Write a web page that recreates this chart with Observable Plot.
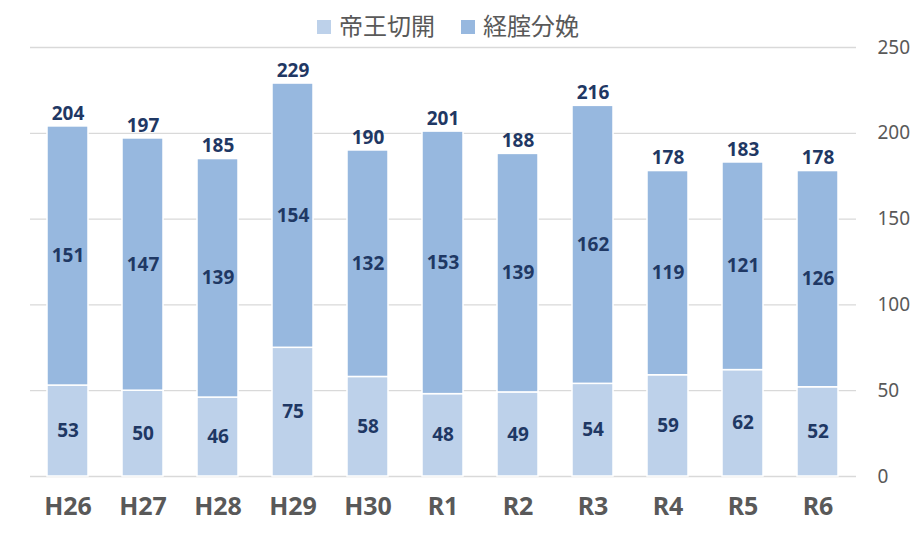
<!DOCTYPE html>
<html><head><meta charset="utf-8">
<script src="https://cdn.jsdelivr.net/npm/d3@7"></script>
<script src="https://cdn.jsdelivr.net/npm/@observablehq/plot@0.6"></script>
<style>
body{margin:0;background:#fff;width:922px;height:534px;overflow:hidden;font-family:"Noto Sans","Noto Sans CJK JP",sans-serif;}
#wrap{position:relative;width:922px;height:534px;}
#legend{position:absolute;left:0;top:8px;width:922px;height:32px;display:flex;justify-content:center;align-items:center;gap:26px;font-family:"Noto Sans CJK JP",sans-serif;font-size:24px;color:#595959;padding-right:26px;box-sizing:border-box;}
#legend span.sw{display:inline-block;width:14px;height:14px;margin-right:8px;vertical-align:middle;position:relative;top:-1px;}
</style></head>
<body>
<div id="wrap"><div id="chart"></div><div id="legend"></div></div>
<script>
const years = ["H26","H27","H28","H29","H30","R1","R2","R3","R4","R5","R6"];
const caesarean = [53,50,46,75,58,48,49,54,59,62,52];
const vaginal = [151,147,139,154,132,153,139,162,119,121,126];
const seriesNames = ["帝王切開","経腟分娩"];
const seriesColors = ["#bdd1ea","#97b8df"];
const yTicks = [0,50,100,150,200,250];

const leg = document.getElementById("legend");
seriesNames.forEach((n,i)=>{
  const d=document.createElement("div");
  d.innerHTML=`<span class="sw" style="background:${seriesColors[i]}"></span>${n}`;
  leg.appendChild(d);
});

const rows = [];
years.forEach((y,i)=>{
  rows.push({year:y, series:seriesNames[0], value:caesarean[i], order:0});
  rows.push({year:y, series:seriesNames[1], value:vaginal[i], order:1});
});
const totals = years.map((y,i)=>({year:y, total:caesarean[i]+vaginal[i]}));

const chart = Plot.plot({
  width:922, height:534,
  marginTop:47, marginBottom:58, marginLeft:30, marginRight:66,
  x:{domain:years, paddingInner:0.45, paddingOuter:0.225, label:null},
  y:{domain:[0,250], label:null},
  color:{domain:seriesNames, range:seriesColors},
  style:{fontFamily:"'Noto Sans', sans-serif"},
  marks:[
    Plot.gridY(yTicks,{stroke:"#d9d9d9", strokeOpacity:1, strokeWidth:1.3}),
    Plot.barY(rows, Plot.stackY({x:"year", y:"value", fill:"series", order:"order", stroke:"#fff", strokeWidth:1.5})),
    Plot.text(rows, Plot.stackY({x:"year", y:"value", order:"order", text:"value", fill:"#1f3864", fontSize:19, fontWeight:"bold"})),
    Plot.text(totals, {x:"year", y:"total", text:"total", dy:-13, fill:"#1f3864", fontSize:19, fontWeight:"bold"}),
    Plot.axisY(yTicks,{anchor:"right", tickSize:0, tickPadding:21, fontSize:19, fill:"#595959", label:null}),
    Plot.axisX({tickSize:0, tickPadding:21, fontSize:25, fontWeight:"bold", fill:"#595959", label:null})
  ]
});
document.getElementById("chart").appendChild(chart);
</script>
</body></html>
